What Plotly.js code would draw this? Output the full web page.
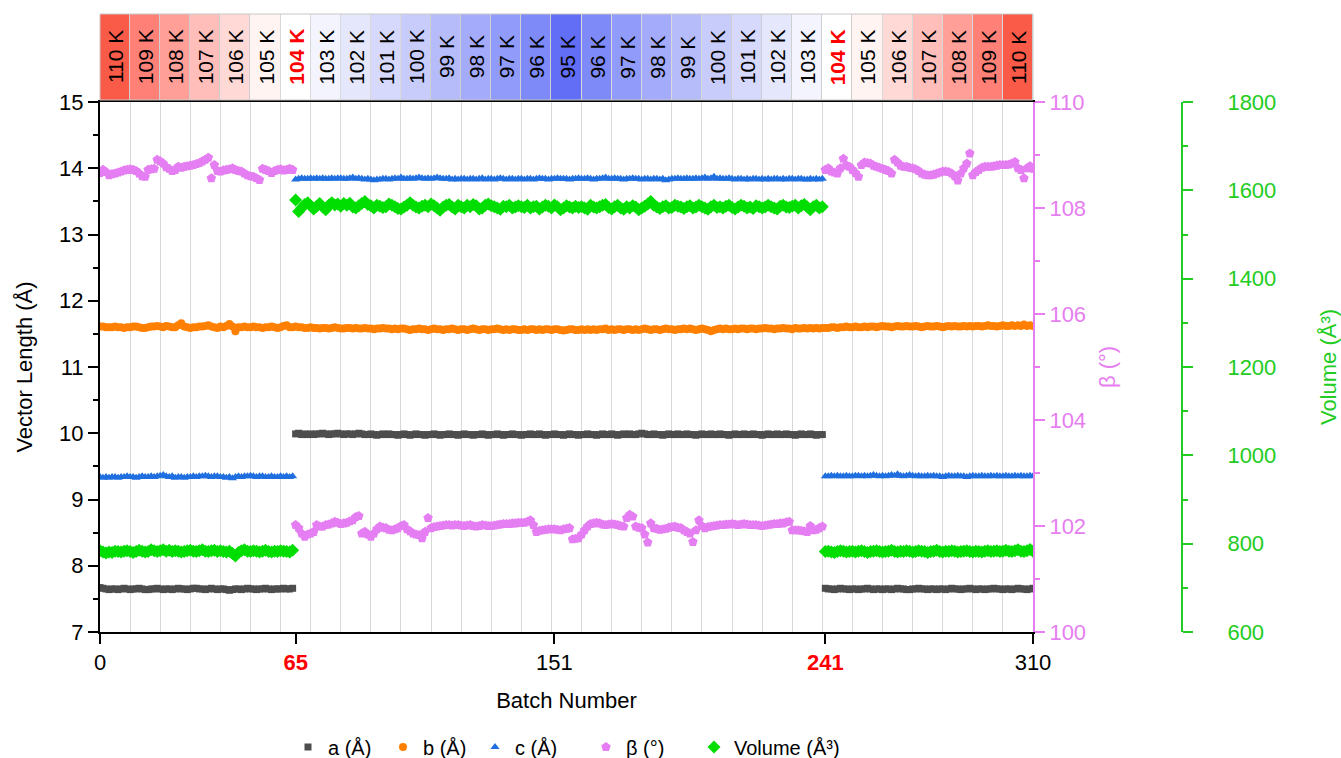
<!DOCTYPE html>
<html>
<head>
<meta charset="utf-8">
<script src="https://cdn.plot.ly/plotly-3.0.1.min.js"></script>
<style>html,body{margin:0;padding:0;background:#fff;}#chart{width:1341px;height:758px;}</style>
</head>
<body>
<div id="chart"></div>
<script>
// ---- Data ----
const temperatures = [110,109,108,107,106,105,104,103,102,101,100,99,98,97,96,95,96,97,98,99,100,101,102,103,104,105,106,107,108,109,110];
const batchesPerStep = 10;
const xTickVals = [0, 65, 151, 241, 310];
const xTickText = ['0', '<b><span style="color:#ff0000">65</span></b>', '151', '<b><span style="color:#ff0000">241</span></b>', '310'];

const aVals = [
7.67,7.66,7.65,7.64,7.65,7.65,7.64,7.65,7.66,7.65,
7.64,7.65,7.65,7.66,7.65,7.64,7.64,7.65,7.65,7.66,
7.65,7.64,7.65,7.65,7.64,7.65,7.66,7.65,7.65,7.64,
7.65,7.66,7.66,7.65,7.65,7.64,7.65,7.66,7.65,7.64,
7.65,7.65,7.64,7.63,7.64,7.65,7.65,7.64,7.65,7.66,
7.65,7.65,7.64,7.65,7.65,7.66,7.65,7.64,7.65,7.65,
7.65,7.66,7.65,7.65,7.66,
9.99,10.00,9.98,9.99,9.98,9.99,9.98,9.99,9.99,10.00,
9.99,9.98,9.99,9.99,10.00,9.99,9.98,9.99,9.99,9.98,
9.99,10.00,9.99,9.98,9.98,9.99,9.98,9.97,9.98,9.99,
9.98,9.99,9.98,9.98,9.97,9.98,9.99,9.98,9.97,9.98,
9.99,9.98,9.98,9.97,9.98,9.98,9.99,9.98,9.97,9.98,
9.98,9.99,9.98,9.98,9.97,9.98,9.99,9.98,9.98,9.97,
9.98,9.98,9.99,9.98,9.97,9.98,9.98,9.99,9.98,9.97,
9.98,9.98,9.99,9.98,9.98,9.97,9.98,9.98,9.99,9.98,
9.98,9.99,9.98,9.97,9.98,9.98,9.99,9.98,9.98,9.97,
9.98,9.99,9.98,9.98,9.97,9.98,9.98,9.99,9.98,9.98,
9.97,9.98,9.99,9.98,9.98,9.99,9.98,9.97,9.98,9.99,
9.98,9.99,9.98,9.98,9.99,10.00,9.99,9.98,9.98,9.99,
9.98,9.98,9.97,9.98,9.99,9.98,9.98,9.99,9.98,9.98,
9.99,9.98,9.98,9.97,9.98,9.99,9.98,9.98,9.99,9.98,
9.98,9.99,9.98,9.98,9.97,9.98,9.99,9.98,9.98,9.99,
9.98,9.98,9.99,9.98,9.98,9.97,9.98,9.99,9.98,9.98,
9.99,9.98,9.98,9.99,9.98,9.98,9.97,9.98,9.99,9.98,
9.98,9.99,9.98,9.97,9.98,9.98,
7.66,7.65,7.65,7.64,7.65,7.66,7.65,7.65,7.64,7.65,
7.65,7.64,7.65,7.65,7.66,7.65,7.64,7.65,7.65,7.64,
7.65,7.65,7.64,7.65,7.66,7.65,7.65,7.64,7.64,7.65,
7.65,7.66,7.65,7.65,7.64,7.65,7.65,7.64,7.65,7.65,
7.64,7.65,7.66,7.65,7.65,7.64,7.65,7.65,7.66,7.65,
7.64,7.65,7.65,7.64,7.65,7.65,7.66,7.65,7.65,7.64,
7.65,7.65,7.64,7.65,7.66,7.65,7.65,7.64,7.65,7.66];

const bVals = [
11.61,11.61,11.60,11.60,11.60,11.61,11.60,11.60,11.59,11.60,
11.60,11.61,11.61,11.60,11.59,11.59,11.60,11.61,11.61,11.62,
11.61,11.60,11.62,11.61,11.60,11.60,11.63,11.66,11.61,11.60,
11.59,11.60,11.60,11.61,11.61,11.62,11.63,11.61,11.60,11.59,
11.61,11.60,11.62,11.65,11.61,11.54,11.60,11.60,11.61,11.60,
11.60,11.61,11.60,11.60,11.59,11.60,11.60,11.61,11.60,11.59,
11.60,11.62,11.63,11.60,11.60,
11.61,11.60,11.60,11.59,11.59,11.60,11.59,11.59,11.58,11.59,
11.59,11.58,11.59,11.60,11.59,11.58,11.58,11.59,11.59,11.58,
11.59,11.58,11.58,11.59,11.58,11.58,11.57,11.58,11.58,11.59,
11.58,11.58,11.57,11.58,11.57,11.58,11.58,11.57,11.56,11.57,
11.57,11.58,11.57,11.57,11.56,11.57,11.58,11.57,11.57,11.56,
11.57,11.57,11.58,11.57,11.56,11.57,11.57,11.56,11.57,11.58,
11.57,11.56,11.57,11.57,11.56,11.57,11.57,11.58,11.57,11.56,
11.57,11.56,11.57,11.57,11.56,11.56,11.57,11.56,11.57,11.57,
11.56,11.57,11.56,11.57,11.57,11.56,11.57,11.57,11.56,11.55,
11.56,11.57,11.57,11.56,11.56,11.57,11.56,11.57,11.56,11.57,
11.56,11.57,11.57,11.58,11.56,11.57,11.56,11.57,11.57,11.56,
11.57,11.57,11.56,11.57,11.56,11.57,11.58,11.57,11.56,11.57,
11.57,11.56,11.57,11.58,11.57,11.57,11.56,11.57,11.57,11.58,
11.57,11.58,11.57,11.56,11.57,11.58,11.57,11.56,11.54,11.56,
11.57,11.58,11.57,11.58,11.57,11.57,11.58,11.57,11.58,11.58,
11.57,11.58,11.58,11.57,11.58,11.58,11.59,11.58,11.58,11.57,
11.58,11.58,11.59,11.58,11.58,11.57,11.59,11.58,11.58,11.59,
11.58,11.59,11.58,11.59,11.58,11.59,
11.59,11.59,11.60,11.60,11.59,11.60,11.60,11.61,11.60,11.60,
11.61,11.60,11.60,11.61,11.60,11.61,11.61,11.60,11.61,11.62,
11.61,11.61,11.60,11.61,11.62,11.61,11.61,11.62,11.61,11.61,
11.62,11.61,11.60,11.61,11.62,11.61,11.61,11.62,11.61,11.60,
11.61,11.62,11.61,11.62,11.61,11.61,11.62,11.61,11.62,11.61,
11.62,11.62,11.61,11.62,11.63,11.62,11.62,11.61,11.62,11.63,
11.62,11.62,11.63,11.62,11.63,11.62,11.64,11.62,11.63,11.62];

const cVals = [
9.34,9.33,9.34,9.33,9.34,9.34,9.33,9.34,9.34,9.35,
9.34,9.34,9.33,9.34,9.35,9.34,9.34,9.35,9.34,9.35,
9.36,9.37,9.35,9.34,9.35,9.33,9.34,9.34,9.33,9.34,
9.34,9.35,9.34,9.35,9.35,9.36,9.35,9.34,9.35,9.35,
9.34,9.34,9.33,9.34,9.32,9.34,9.35,9.34,9.35,9.35,
9.36,9.35,9.34,9.35,9.35,9.34,9.34,9.35,9.34,9.34,
9.35,9.34,9.35,9.34,9.35,
13.83,13.84,13.85,13.84,13.84,13.85,13.84,13.85,13.84,13.85,
13.84,13.84,13.85,13.84,13.85,13.85,13.84,13.84,13.85,13.86,
13.84,13.85,13.84,13.83,13.84,13.83,13.82,13.83,13.83,13.84,
13.84,13.83,13.84,13.85,13.84,13.86,13.84,13.84,13.85,13.84,
13.85,13.86,13.85,13.84,13.85,13.84,13.85,13.86,13.85,13.84,
13.84,13.85,13.83,13.84,13.83,13.84,13.84,13.83,13.84,13.84,
13.83,13.84,13.85,13.83,13.84,13.84,13.83,13.84,13.85,13.84,
13.83,13.84,13.84,13.83,13.84,13.84,13.83,13.84,13.84,13.83,
13.84,13.85,13.84,13.84,13.83,13.84,13.84,13.85,13.84,13.84,
13.84,13.83,13.84,13.84,13.85,13.84,13.84,13.85,13.84,13.83,
13.84,13.84,13.85,13.86,13.84,13.84,13.85,13.84,13.84,13.83,
13.84,13.84,13.85,13.84,13.84,13.83,13.84,13.84,13.83,13.84,
13.84,13.83,13.84,13.82,13.83,13.84,13.84,13.85,13.84,13.84,
13.85,13.84,13.84,13.85,13.84,13.85,13.86,13.84,13.85,13.87,
13.84,13.85,13.84,13.84,13.85,13.84,13.83,13.84,13.84,13.83,
13.84,13.83,13.84,13.84,13.83,13.84,13.83,13.84,13.83,13.84,
13.84,13.83,13.84,13.83,13.84,13.84,13.83,13.84,13.84,13.83,
13.83,13.84,13.83,13.84,13.83,13.84,
9.35,9.35,9.36,9.35,9.36,9.35,9.35,9.36,9.35,9.35,
9.36,9.36,9.35,9.36,9.35,9.36,9.37,9.36,9.35,9.36,
9.35,9.36,9.37,9.36,9.38,9.36,9.35,9.36,9.37,9.36,
9.35,9.36,9.35,9.35,9.36,9.35,9.36,9.35,9.35,9.34,
9.35,9.36,9.35,9.35,9.36,9.35,9.35,9.34,9.35,9.36,
9.35,9.35,9.36,9.35,9.35,9.36,9.35,9.36,9.35,9.35,
9.36,9.35,9.35,9.36,9.35,9.36,9.35,9.35,9.36,9.35];

const betaVals = [
108.66,108.72,108.68,108.62,108.64,108.65,108.67,108.69,108.71,108.72,
108.73,108.72,108.70,108.65,108.60,108.59,108.72,108.73,108.74,108.91,
108.88,108.84,108.77,108.74,108.70,108.72,108.78,108.76,108.78,108.79,
108.80,108.81,108.83,108.85,108.88,108.91,108.95,108.56,108.81,108.70,
108.69,108.71,108.72,108.73,108.75,108.72,108.70,108.69,108.65,108.62,
108.60,108.59,108.56,108.53,108.74,108.72,108.70,108.66,108.70,108.72,
108.73,108.71,108.72,108.74,108.72,
102.02,101.96,101.86,101.80,101.84,101.86,101.89,102.02,101.99,101.99,
102.02,102.03,102.05,102.08,102.06,102.04,102.05,102.06,102.09,102.11,
102.17,102.19,101.86,101.89,101.84,101.80,101.86,101.94,101.99,101.97,
101.96,101.93,101.92,101.94,101.96,102.00,102.02,101.94,101.90,101.86,
101.84,101.83,101.77,101.89,102.15,101.96,101.98,101.99,102.00,102.01,
102.02,102.02,102.01,102.02,102.02,102.01,102.00,102.01,102.02,102.00,
101.99,102.00,102.02,102.01,102.00,102.00,102.01,102.02,102.03,102.04,
102.04,102.04,102.05,102.05,102.06,102.06,102.06,102.08,102.11,102.02,
101.89,101.91,101.92,101.93,101.94,101.94,101.94,101.93,101.92,101.94,
101.95,101.96,101.75,101.76,101.77,101.84,101.92,101.99,102.04,102.05,
102.06,102.05,102.03,102.02,102.03,102.04,102.03,102.02,102.00,101.99,
102.15,102.21,102.18,101.99,101.97,101.96,101.84,101.69,102.05,101.96,
101.95,101.93,101.94,101.95,101.97,101.98,101.99,101.97,101.96,101.92,
101.89,101.86,101.70,101.92,102.11,102.00,101.96,101.98,101.99,102.00,
102.01,102.02,102.02,102.03,102.03,102.04,102.03,102.02,102.03,102.04,
102.03,102.02,102.02,102.02,102.01,102.00,102.01,102.02,102.03,102.04,
102.04,102.05,102.05,102.07,102.08,101.92,101.92,101.92,101.91,101.90,
101.89,102.00,101.92,101.93,101.96,101.99,
108.72,108.75,108.69,108.67,108.65,108.75,108.93,108.80,108.78,108.72,
108.66,108.59,108.81,108.86,108.85,108.84,108.80,108.78,108.76,108.74,
108.72,108.70,108.65,108.91,108.86,108.80,108.78,108.78,108.76,108.75,
108.73,108.70,108.65,108.63,108.62,108.62,108.63,108.65,108.67,108.69,
108.69,108.68,108.65,108.60,108.52,108.65,108.75,108.84,109.03,108.62,
108.68,108.72,108.76,108.78,108.78,108.78,108.79,108.80,108.81,108.81,
108.81,108.82,108.84,108.87,108.75,108.72,108.56,108.75,108.79,108.74];

const volVals = [
784,781,779,781,780,783,782,781,783,784,
782,780,782,785,783,781,782,786,784,782,
784,786,783,785,782,784,783,781,782,784,
785,783,782,784,786,783,782,784,785,782,
784,782,781,783,778,772,780,784,786,783,
782,784,783,781,783,785,782,781,783,782,
784,783,782,781,785,
1578,1552,1560,1568,1572,1565,1558,1564,1570,1562,
1556,1566,1572,1567,1569,1564,1570,1566,1571,1562,
1560,1565,1570,1575,1568,1565,1560,1566,1564,1561,
1563,1569,1566,1563,1559,1558,1562,1566,1572,1566,
1562,1560,1564,1566,1563,1569,1565,1560,1555,1562,
1566,1568,1562,1558,1566,1563,1560,1566,1563,1568,
1565,1558,1560,1566,1569,1565,1563,1560,1557,1564,
1563,1566,1560,1562,1565,1563,1561,1566,1560,1563,
1564,1558,1562,1566,1564,1560,1567,1563,1556,1560,
1565,1562,1560,1564,1561,1563,1560,1557,1566,1562,
1560,1563,1566,1568,1561,1558,1563,1566,1560,1557,
1563,1560,1565,1562,1556,1560,1564,1569,1575,1566,
1562,1559,1563,1565,1560,1561,1566,1564,1562,1559,
1563,1565,1560,1562,1566,1563,1560,1557,1563,1566,
1561,1563,1560,1564,1566,1561,1558,1562,1566,1564,
1560,1562,1559,1565,1563,1560,1562,1566,1563,1560,
1558,1564,1566,1562,1561,1564,1566,1560,1565,1568,
1562,1556,1563,1566,1560,1563,
782,783,781,780,782,784,783,781,782,783,
781,783,784,782,780,782,783,784,782,781,
782,783,785,782,781,783,782,784,783,781,
782,784,783,782,780,782,783,785,782,781,
783,782,784,783,781,782,783,784,782,781,
783,782,781,783,784,782,783,784,782,783,
785,783,782,784,786,783,782,784,787,783];

// ---- Build chart ----
const batch = aVals.map((_, i) => i);
const FONT = 'Liberation Sans, Arial, Helvetica, sans-serif';
const VIOLET = '#e67ef0';
const GREEN = '#22cc22';
const MS = 8;

const traces = [
  {x: batch, y: aVals, name: 'a (Å)', type: 'scatter', mode: 'markers', xaxis: 'x', yaxis: 'y', legend: 'legend',
   marker: {symbol: 'square', size: MS - 1, color: '#4d4d4d'}},
  {x: batch, y: bVals, name: 'b (Å)', type: 'scatter', mode: 'markers', xaxis: 'x', yaxis: 'y', legend: 'legend2',
   marker: {symbol: 'circle', size: MS, color: '#ff8000'}},
  {x: batch, y: cVals, name: 'c (Å)', type: 'scatter', mode: 'markers', xaxis: 'x', yaxis: 'y', legend: 'legend3',
   marker: {symbol: 'triangle-up', size: MS, color: '#1f6fe0'}},
  {x: batch, y: betaVals, name: 'β (°)', type: 'scatter', mode: 'markers', xaxis: 'x', yaxis: 'y2', legend: 'legend4',
   marker: {symbol: 'pentagon', size: MS + 2, color: '#e57ef2'}},
  {x: batch, y: volVals, name: 'Volume (Å³)', type: 'scatter', mode: 'markers', xaxis: 'x', yaxis: 'y3', legend: 'legend5',
   marker: {symbol: 'diamond', size: MS + 2, color: '#00dd00'}},
  {type: 'heatmap', z: [temperatures], x0: batchesPerStep / 2, dx: batchesPerStep, y: [0.5],
   xaxis: 'x', yaxis: 'y4', zmin: 95, zmax: 110, showscale: false, xgap: 1, hoverinfo: 'skip',
   showlegend: false,
   colorscale: [[0, 'rgb(98,110,246)'], [0.0667, 'rgb(126,138,248)'], [0.333, 'rgb(200,204,251)'],
                [0.533, 'rgb(243,244,254)'], [0.6, 'rgb(255,255,255)'], [0.667, 'rgb(255,244,242)'],
                [0.8, 'rgb(255,190,185)'], [0.933, 'rgb(255,128,118)'], [1, 'rgb(250,90,72)']]}
];

const annotations = temperatures.map((t, i) => ({
  x: batchesPerStep / 2 + i * batchesPerStep, xref: 'x',
  y: 0.5, yref: 'y4 domain',
  text: t === 104 ? '<b>' + t + ' K</b>' : t + ' K',
  showarrow: false, textangle: -90,
  font: {family: FONT, size: 21, color: t === 104 ? '#ff0000' : '#000000'}
}));

const mainTop = (632 - 102) / 618;
const bandBottom = (632 - 100) / 618;

function legendAt(leftPx) {
  return {orientation: 'h', x: (leftPx - 100) / 1082, xanchor: 'left', xref: 'paper',
          y: 1 - 747 / 758, yanchor: 'middle', yref: 'container',
          font: {family: FONT, size: 20, color: '#000'}, bgcolor: 'rgba(0,0,0,0)', itemwidth: 30};
}

const layout = {
  width: 1341, height: 758,
  margin: {l: 100, r: 159, t: 14, b: 126, pad: 0, autoexpand: false},
  paper_bgcolor: '#ffffff', plot_bgcolor: '#ffffff',
  font: {family: FONT, size: 22, color: '#000'},
  showlegend: true,
  legend: legendAt(288),
  legend2: legendAt(383),
  legend3: legendAt(475),
  legend4: legendAt(586),
  legend5: legendAt(694),
  xaxis: {domain: [0, 933 / 1082], range: [0, 310], anchor: 'y',
          tickmode: 'array', tickvals: xTickVals, ticktext: xTickText,
          ticks: 'outside', ticklen: 10, tickwidth: 2, tickcolor: '#000',
          showline: true, linecolor: '#000', linewidth: 2, mirror: true,
          showgrid: false, zeroline: false,
          minor: {tickmode: 'linear', tick0: 0, dtick: batchesPerStep, showgrid: true, gridcolor: '#d9d9d9', gridwidth: 1, ticks: ''},
          tickfont: {family: FONT, size: 22, color: '#000'},
          title: {text: 'Batch Number', font: {family: FONT, size: 22, color: '#000'}, standoff: 18}},
  yaxis: {domain: [0, mainTop], range: [7, 15], dtick: 1, anchor: 'x',
          ticks: 'outside', ticklen: 10, tickwidth: 2, tickcolor: '#000',
          showline: true, linecolor: '#000', linewidth: 2, showgrid: false, zeroline: false,
          minor: {dtick: 0.5, ticks: 'outside', ticklen: 5, tickwidth: 2, tickcolor: '#000', showgrid: false},
          tickfont: {family: FONT, size: 22, color: '#000'},
          title: {text: 'Vector Length (Å)', font: {family: FONT, size: 22, color: '#000'}, standoff: 20}},
  yaxis2: {domain: [0, mainTop], range: [100, 110], dtick: 2, overlaying: 'y', side: 'right', anchor: 'x',
           ticks: 'outside', ticklen: 10, tickwidth: 2, tickcolor: VIOLET,
           showline: true, linecolor: VIOLET, linewidth: 2, showgrid: false, zeroline: false,
           minor: {dtick: 1, ticks: 'outside', ticklen: 5, tickwidth: 2, tickcolor: VIOLET, showgrid: false},
           tickfont: {family: FONT, size: 22, color: VIOLET},
           title: {text: 'β (°)', font: {family: FONT, size: 22, color: VIOLET}, standoff: 14}},
  yaxis3: {domain: [0, mainTop], range: [600, 1800], dtick: 200, overlaying: 'y', side: 'right',
           anchor: 'free', position: 1,
           ticks: 'outside', ticklen: 10, tickwidth: 2, tickcolor: GREEN, ticklabelstandoff: 30,
           showline: true, linecolor: GREEN, linewidth: 2, showgrid: false, zeroline: false,
           minor: {dtick: 100, ticks: 'outside', ticklen: 5, tickwidth: 2, tickcolor: GREEN, showgrid: false},
           tickfont: {family: FONT, size: 22, color: GREEN},
           title: {text: 'Volume (Å³)', font: {family: FONT, size: 22, color: GREEN}, standoff: 44}},
  yaxis4: {domain: [bandBottom, 1], range: [0, 1], anchor: 'x', visible: false, fixedrange: true},
  shapes: [
    {type: 'rect', xref: 'x domain', yref: 'y4 domain', x0: 0, x1: 1, y0: 0, y1: 1,
     fillcolor: '#cfcfcf', line: {width: 0}, layer: 'below'},
    {type: 'rect', xref: 'x domain', yref: 'y4 domain', x0: 0, x1: 1, y0: 0, y1: 1,
     fillcolor: 'rgba(0,0,0,0)', line: {width: 1, color: '#c8c8c8'}, layer: 'above'}
  ],
  annotations: annotations
};

Plotly.newPlot('chart', traces, layout, {displayModeBar: false, staticPlot: true});
</script>
</body>
</html>
